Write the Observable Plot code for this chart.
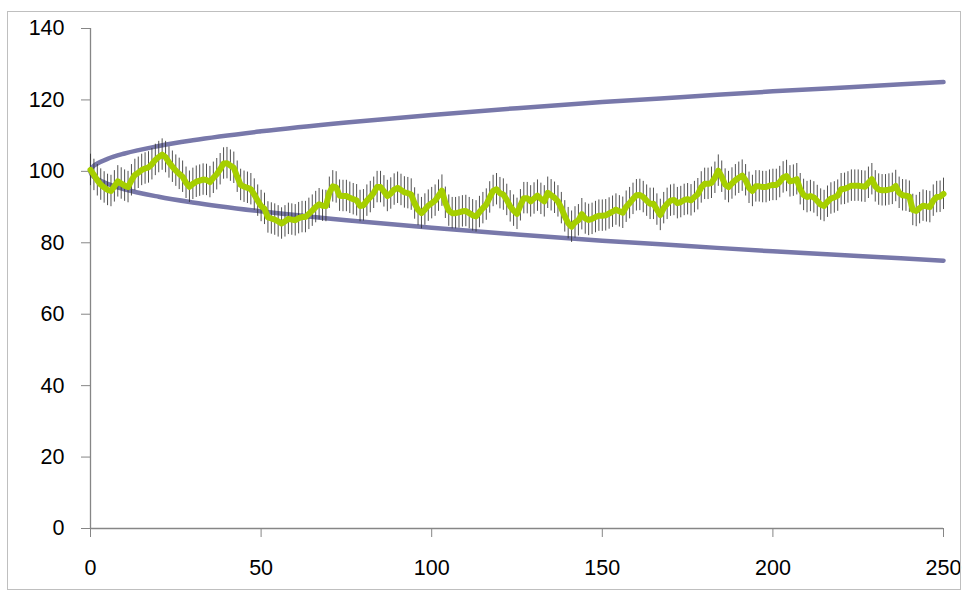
<!DOCTYPE html>
<html>
<head>
<meta charset="utf-8">
<script src="https://cdn.jsdelivr.net/npm/d3@7"></script>
<script src="https://cdn.jsdelivr.net/npm/@observablehq/plot@0.6"></script>
<style>
  html, body { margin: 0; padding: 0; background: #fff; }
  #wrap { position: relative; width: 965px; height: 594px; overflow: hidden; }
  #border { position: absolute; left: 7px; top: 11px; width: 954px; height: 579px; border: 1px solid #bfbfbf; box-sizing: border-box; pointer-events: none; }
  #chart { position: absolute; left: 0; top: 0; }
  #chart svg text { font-family: 'Liberation Sans', Arial, sans-serif; font-size: 21.5px; fill: #000; }
</style>
</head>
<body>
<div id="wrap"><div id="chart"></div><div id="border"></div></div>
<script>
// Envelope curves
const envX     = [0, 0.25, 0.5, 1, 2, 5, 10, 20, 30, 50, 75, 100, 125, 150, 175, 200, 225, 250];
const envUpper = [100, 100.8, 101.1, 101.6, 102.2, 103.5, 105, 107.1, 108.7, 111.2, 113.7, 115.8, 117.7, 119.4, 120.9, 122.4, 123.7, 125];
const envLower = [100, 99.2, 98.9, 98.4, 97.8, 96.5, 95, 92.9, 91.3, 88.8, 86.3, 84.2, 82.3, 80.6, 79.1, 77.6, 76.3, 75];

// Series values at x = 0, 1, 2, ..., 250
const seriesY = [
  100.4, 99, 97.5, 96.3, 95.5, 94.8, 94.5, 95.8, 97.2, 96.6,
  96, 95.6, 97.5, 99, 99.6, 100.4, 100.8, 101.1, 102, 103.2,
  104, 104.7, 104, 102.5, 101.3, 100.2, 99.3, 98.5, 96.8, 95.7,
  96.5, 97.1, 97.4, 97.7, 97.6, 97, 98.2, 99.2, 100.6, 102.2,
  102.3, 101.6, 101, 98.5, 96.2, 95.7, 95.4, 95, 93.5, 91.8,
  90.3, 89.5, 87.1, 86.8, 86.5, 86, 85.4, 86, 86.7, 86.5,
  86.3, 86.9, 87.2, 87.2, 88.1, 89, 90, 90.8, 90.4, 90.3,
  94, 95.8, 95.5, 93.2, 93.1, 93.1, 92.6, 92.2, 91.9, 90.3,
  90.5, 91.8, 92.8, 94, 95.6, 95.6, 94.4, 93.1, 93.8, 94.9,
  95.4, 94.8, 94.1, 93.9, 93.5, 91, 89.2, 88.3, 89.3, 90.4,
  91.1, 91.8, 93.2, 94.6, 91.2, 89, 88.3, 88.3, 88.5, 88.8,
  88.9, 88.3, 87.7, 87.4, 88.6, 89.7, 90.7, 92.7, 94.5, 95,
  93.9, 93.5, 92, 90.2, 89, 88.1, 90.5, 92.5, 92.5, 91.6,
  92.4, 93.2, 92.3, 91.6, 94, 93.3, 92.6, 91.6, 89.7, 87.4,
  85.5, 84.5, 85.7, 86.3, 88, 86.8, 86.4, 86.7, 87.2, 87.6,
  87.6, 87.7, 88.2, 88.7, 89.3, 88.8, 88.4, 90.1, 91.1, 92.3,
  93.3, 93.4, 92.8, 91.8, 90.9, 90.9, 89.3, 87.8, 89.7, 90.9,
  91.8, 92, 91.1, 91.4, 92, 92.2, 91.9, 92.8, 93.6, 95.5,
  96.5, 96.5, 96.8, 98.2, 100.2, 98.5, 96.3, 95.6, 96.6, 97.5,
  98.2, 98.8, 97.5, 95.4, 94.5, 95.8, 95.8, 95.6, 95.6, 96,
  96.2, 96.2, 97, 98.3, 98.7, 97.2, 97.4, 97.8, 95, 93.4,
  92.8, 93.1, 92.7, 91.7, 90.7, 90.3, 91.5, 92.4, 92.7, 93.2,
  95, 95.1, 95.5, 96, 96, 96, 95.8, 95.7, 96.8, 97.8,
  95.8, 94.9, 94.7, 94.7, 94.9, 95.1, 95.9, 94, 93.3, 93.2,
  92.9, 89.2, 88.9, 89.7, 90.4, 90.2, 90, 91.8, 92.8, 92.9,
  93.7
];
const errorHalf = 4.4;

const xTicks = [0, 50, 100, 150, 200, 250];
const yTicks = [0, 20, 40, 60, 80, 100, 120, 140];

const env = envX.map((x, i) => ({x, upper: envUpper[i], lower: envLower[i]}));
const series = seriesY.map((y, i) => ({x: i, y}));

const chart = Plot.plot({
  width: 965,
  height: 594,
  marginLeft: 90,
  marginRight: 22,
  marginTop: 28,
  marginBottom: 66,
  style: {fontFamily: "'Liberation Sans', Arial, sans-serif", fontSize: "21.5px", color: "black", background: "white"},
  x: {domain: [0, 250]},
  y: {domain: [0, 140]},
  marks: [
    Plot.axisY({ticks: yTicks, tickSize: 9, tickPadding: 17, stroke: "#868686", fill: "black", label: null}),
    Plot.axisX({ticks: xTicks, tickSize: 9, tickPadding: 22, stroke: "#868686", fill: "black", label: null}),
    Plot.ruleX([0], {stroke: "#868686", strokeWidth: 1.3}),
    Plot.ruleY([0], {stroke: "#868686", strokeWidth: 1.3}),
    Plot.line(env, {x: "x", y: "upper", stroke: "#7878aa", strokeWidth: 4.5, curve: "monotone-x"}),
    Plot.line(env, {x: "x", y: "lower", stroke: "#7878aa", strokeWidth: 4.5, curve: "monotone-x"}),
    Plot.ruleX(series, {x: "x", y1: d => d.y - errorHalf, y2: d => d.y + errorHalf, stroke: "#333333", strokeWidth: 1, strokeOpacity: 0.85}),
    Plot.line(series, {x: "x", y: "y", stroke: "#a6cf00", strokeWidth: 6, strokeLinejoin: "round", strokeLinecap: "round"})
  ]
});
document.getElementById("chart").appendChild(chart);
</script>
</body>
</html>
